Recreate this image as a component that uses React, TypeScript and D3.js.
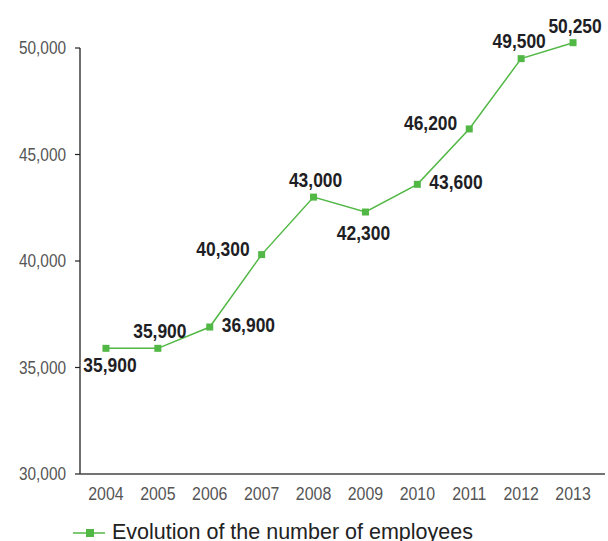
import React from "react";
import * as d3 from "d3";

const years = ["2004", "2005", "2006", "2007", "2008", "2009", "2010", "2011", "2012", "2013"];
const employees = [35900, 35900, 36900, 40300, 43000, 42300, 43600, 46200, 49500, 50250];
const yTicks = [30000, 35000, 40000, 45000, 50000];
const seriesName = "Evolution of the number of employees";

// where each value label sits relative to its marker
const labelPlacement = ["belowLeft", "above", "right", "left", "above", "below", "right", "left", "aboveLeft", "above"];

const W = 608;
const H = 541;
const margin = { left: 80, right: 9, top: 48, bottom: 67 };
const GREEN = "#52b845";
const fmt = d3.format(",");

export default function App() {
  const x = d3
    .scaleBand<string>()
    .domain(years)
    .range([margin.left, W - margin.right]);
  const y = d3
    .scaleLinear()
    .domain([30000, 50000])
    .range([H - margin.bottom, margin.top]);

  const cx = (i: number) => (x(years[i]) as number) + x.bandwidth() / 2;

  const line = d3
    .line<number>()
    .x((_, i) => cx(i))
    .y((d) => y(d));

  const labelPos = (i: number) => {
    const px = cx(i);
    const py = y(employees[i]);
    switch (labelPlacement[i]) {
      case "above":
        return { x: px + 2, y: py - 10, anchor: "middle" };
      case "aboveLeft":
        return { x: px - 2, y: py - 11, anchor: "middle" };
      case "below":
        return { x: px - 2, y: py + 28, anchor: "middle" };
      case "belowLeft":
        return { x: px + 4, y: py + 24, anchor: "middle" };
      case "right":
        return { x: px + 12, y: py + 5, anchor: "start" };
      case "left":
      default:
        return { x: px - 12, y: py + 1, anchor: "end" };
    }
  };

  const axisY = H - margin.bottom;

  return (
    <svg
      width={W}
      height={H}
      style={{ position: "absolute", left: 0, top: 0, display: "block", background: "#fff" }}
      fontFamily="'Liberation Sans', Arial, sans-serif"
    >
      {/* y axis */}
      <line x1={margin.left} x2={margin.left} y1={margin.top} y2={axisY} stroke="#222" strokeWidth={1.3} />
      {yTicks.map((t) => (
        <g key={t}>
          <line x1={margin.left - 5} x2={margin.left} y1={y(t)} y2={y(t)} stroke="#222" strokeWidth={1.2} />
          <text
            transform={`translate(${margin.left - 14},${y(t) + 6}) scale(0.88,1)`}
            textAnchor="end"
            fontSize={17.5}
            fill="#555"
          >
            {fmt(t)}
          </text>
        </g>
      ))}

      {/* x axis */}
      <line x1={margin.left} x2={W - 3} y1={axisY} y2={axisY} stroke="#444" strokeWidth={1.3} />
      {years.map((yr, i) => (
        <text
          key={yr}
          transform={`translate(${cx(i)},${axisY + 26}) scale(0.86,1)`}
          textAnchor="middle"
          fontSize={18.5}
          fill="#555"
        >
          {yr}
        </text>
      ))}

      {/* series */}
      <path d={line(employees) ?? ""} fill="none" stroke={GREEN} strokeWidth={1.5} />
      {employees.map((v, i) => (
        <rect key={i} x={cx(i) - 3.5} y={y(v) - 3.5} width={7} height={7} fill={GREEN} />
      ))}
      {employees.map((v, i) => {
        const p = labelPos(i);
        return (
          <text
            key={`l${i}`}
            transform={`translate(${p.x},${p.y}) scale(0.83,1)`}
            textAnchor={p.anchor}
            fontSize={21}
            fontWeight="bold"
            fill="#1e1e24"
          >
            {fmt(v)}
          </text>
        );
      })}

      {/* legend */}
      <line x1={73} x2={105} y1={533} y2={533} stroke={GREEN} strokeWidth={1.5} />
      <rect x={86} y={529} width={8} height={8} fill={GREEN} />
      <text x={112} y={539} fontSize={21.5} fill="#222">
        {seriesName}
      </text>
    </svg>
  );
}
